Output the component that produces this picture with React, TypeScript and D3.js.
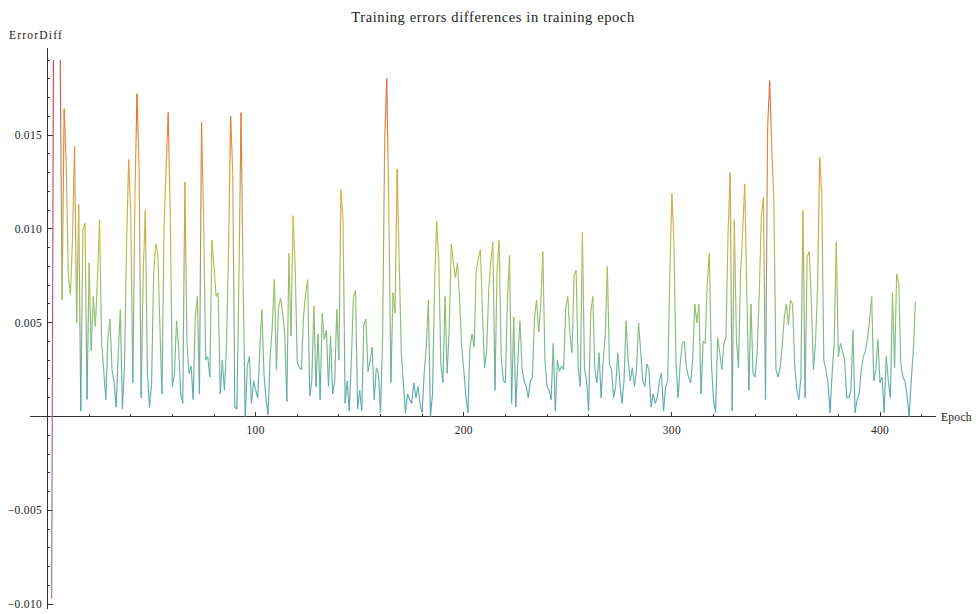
import React from 'react';
import * as d3 from 'd3';

// epoch of the first difference
const firstEpoch = 2;

// ErrorDiff per epoch, in thousandths (early values above 0.019 are cut by the plot range)
const errorDiffMilli = [
  -9.7, 24.0, 21.5, 23.0, 20.5, 6.2, 16.4, 13.5, 7.5, 6.5,
  9.4, 14.4, 5.0, 11.3, 0.3, 9.9, 10.3, 0.9, 8.2, 3.5,
  6.4, 4.8, 7.3, 10.5, 3.9, 2.5, 0.9, 4.1, 5.2, 2.5,
  1.8, 0.5, 3.4, 5.7, 0.4, 2.7, 9.2, 13.7, 10.8, 1.8,
  11.6, 17.2, 13.3, 1.0, 7.7, 11.0, 2.3, 0.5, 1.7, 7.6,
  9.2, 8.7, 4.8, 1.2, 10.1, 13.3, 16.2, 10.6, 1.6, 2.3,
  5.1, 3.7, 1.2, 0.7, 12.5, 4.0, 2.3, 2.7, 0.9, 5.3,
  6.4, 1.2, 15.7, 10.6, 3.0, 3.2, 2.1, 9.4, 8.0, 6.4,
  6.6, 1.2, 3.0, 1.4, 3.7, 9.0, 16.0, 13.0, 0.5, 0.4,
  7.5, 16.2, 7.1, 0.0, 2.7, 3.2, 0.7, 1.9, 1.4, 1.0,
  3.5, 5.7, 2.3, 0.9, 0.1, 3.2, 4.8, 7.3, 2.5, 5.8,
  6.3, 5.5, 4.4, 0.8, 8.7, 4.3, 10.7, 7.9, 2.9, 2.6,
  2.5, 5.3, 6.5, 7.3, 1.1, 1.9, 5.9, 1.6, 4.4, 0.9,
  5.5, 4.1, 4.6, 1.6, 4.3, 1.2, 1.9, 5.7, 3.0, 12.1,
  10.5, 0.7, 1.9, 0.3, 3.0, 6.4, 6.7, 0.4, 1.4, 0.3,
  4.9, 5.2, 2.4, 3.0, 3.7, 0.9, 2.6, 2.3, 0.2, 4.1,
  14.6, 18.0, 11.1, 1.8, 6.6, 5.5, 13.2, 8.2, 3.4, 1.7,
  0.2, 1.2, 0.9, 0.7, 1.8, 1.0, 1.6, 0.7, 0.2, 2.3,
  3.7, 6.2, 0.0, 1.2, 7.1, 10.4, 8.3, 2.8, 1.8, 6.4,
  2.3, 4.6, 9.2, 8.2, 7.4, 8.2, 6.2, 3.7, 2.5, 1.1,
  0.2, 3.7, 4.4, 3.7, 7.8, 8.4, 8.9, 5.5, 2.6, 3.5,
  6.7, 8.3, 9.3, 1.4, 7.8, 9.4, 3.2, 1.9, 1.8, 6.2,
  8.6, 0.7, 5.3, 0.5, 3.0, 5.1, 2.6, 1.9, 1.6, 1.0,
  1.9, 2.1, 5.3, 6.2, 4.5, 6.0, 8.8, 3.0, 1.6, 1.4,
  0.9, 3.9, 0.3, 3.0, 2.4, 2.7, 2.5, 5.8, 6.4, 4.4,
  3.4, 7.5, 7.8, 2.6, 1.6, 9.8, 2.6, 1.9, 0.3, 5.5,
  6.4, 2.5, 1.8, 3.4, 1.0, 3.0, 4.3, 8.0, 2.8, 2.5,
  1.0, 1.6, 3.4, 1.8, 0.7, 1.9, 5.1, 3.0, 1.9, 2.6,
  1.6, 2.5, 5.0, 3.5, 1.9, 1.6, 2.8, 2.5, 0.5, 1.2,
  0.7, 1.0, 1.9, 2.3, 0.3, 1.6, 1.9, 7.5, 11.9, 9.2,
  2.8, 1.0, 2.8, 3.9, 4.0, 2.6, 2.1, 1.8, 3.0, 6.0,
  5.0, 6.0, 1.2, 4.0, 3.9, 7.1, 8.7, 2.8, 0.9, 0.2,
  4.2, 3.4, 2.5, 3.9, 4.2, 9.8, 13.0, 0.3, 10.5, 4.2,
  2.6, 7.6, 9.8, 12.4, 6.6, 1.4, 6.0, 2.3, 2.1, 3.5,
  6.6, 10.7, 11.7, 0.9, 15.4, 17.9, 14.2, 11.5, 2.5, 2.1,
  2.6, 3.7, 5.3, 6.0, 4.9, 6.2, 6.0, 2.8, 1.4, 0.9,
  2.1, 11.0, 1.0, 8.5, 8.8, 6.2, 2.5, 3.9, 6.9, 13.8,
  11.9, 3.0, 2.5, 1.8, 0.2, 2.3, 4.0, 9.3, 3.2, 3.9,
  3.5, 3.0, 1.0, 1.0, 1.4, 4.6, 0.2, 0.9, 1.2, 2.5,
  3.2, 3.5, 4.2, 5.1, 6.4, 1.9, 2.5, 4.1, 1.8, 2.1,
  0.2, 3.2, 1.9, 1.0, 6.6, 2.6, 7.6, 7.1, 2.8, 2.1,
  1.9, 1.1, 0.0, 1.9, 3.5, 6.1,
];
const errorDiff = errorDiffMilli.map((v) => v / 1000);

const xMajorTicks = [100, 200, 300, 400];
const xMajorLabels = ['100', '200', '300', '400'];
const xMinorTicks = [20, 40, 60, 80, 120, 140, 160, 180, 220, 240, 260, 280, 320, 340, 360, 380, 420];
const yMajorTicks = [-0.01, -0.005, 0.005, 0.01, 0.015];
const yMajorLabels = ['\u22120.010', '\u22120.005', '0.005', '0.010', '0.015'];

const title = 'Training errors differences in training epoch';
const xLabel = 'Epoch';
const yLabel = 'ErrorDiff';

// colour by value, like the plot's colour function
const colorStops = [-0.0097, 0, 0.003, 0.005, 0.008, 0.0105, 0.013, 0.016, 0.019, 0.024];
const colorRange = ['#a565c6', '#56a3b6', '#72b79f', '#8dbd70', '#acc052', '#cbb942', '#e1a23e', '#e37c36', '#e0543f', '#d83a34'];

const W = 976;
const H = 614;
const font = '"Liberation Serif", "Times New Roman", serif';

export default function App() {
  const x = d3.scaleLinear().domain([0, 400]).range([47.5, 880]);
  const y = d3.scaleLinear().domain([0, 0.015]).range([416.5, 135.1]);
  const color = d3
    .scaleLinear<string>()
    .domain(colorStops)
    .range(colorRange)
    .interpolate(d3.interpolateRgb)
    .clamp(true);

  const pts = errorDiff.map((v, i) => ({ px: x(firstEpoch + i), py: y(v), v }));
  const segs = d3.pairs(pts);

  const yMinor = d3.range(-10, 20).filter((k) => k % 5 !== 0).map((k) => k / 1000);
  const ax0 = x(0) - 0.5;
  const ay0 = y(0);
  const clipTop = y(0.019);
  const clipBottom = y(-0.0105);

  return (
    <svg width={W} height={H} style={{ position: 'absolute', left: 0, top: 0, background: '#fff' }}>
      <defs>
        <clipPath id="plotArea">
          <rect x={0} y={clipTop} width={W} height={clipBottom - clipTop} />
        </clipPath>
        {segs.map(([a, b], i) => (
          <linearGradient key={i} id={`seg${i}`} gradientUnits="userSpaceOnUse" x1={a.px} y1={a.py} x2={b.px} y2={b.py}>
            <stop offset="0" stopColor={color(a.v)} />
            <stop offset="1" stopColor={color(b.v)} />
          </linearGradient>
        ))}
      </defs>

      <text x={493} y={22} textAnchor="middle" fontFamily={font} fontSize={14.5} letterSpacing={0.6} fill="#222">
        {title}
      </text>

      {/* axes */}
      <g stroke="#333" strokeWidth={1} shapeRendering="crispEdges">
        <line x1={30} x2={936} y1={ay0} y2={ay0} />
        <line x1={ax0} x2={ax0} y1={48} y2={609} />
        {xMajorTicks.map((t) => (
          <line key={`xM${t}`} x1={x(t)} x2={x(t)} y1={ay0} y2={ay0 - 5} />
        ))}
        {xMinorTicks.map((t) => (
          <line key={`xm${t}`} x1={x(t)} x2={x(t)} y1={ay0} y2={ay0 - 3} />
        ))}
        {yMajorTicks.map((t) => (
          <line key={`yM${t}`} x1={ax0} x2={ax0 + 6} y1={y(t)} y2={y(t)} />
        ))}
        {yMinor.map((t) => (
          <line key={`ym${t}`} x1={ax0} x2={ax0 + 3} y1={y(t)} y2={y(t)} />
        ))}
      </g>

      <g fontFamily={font} fontSize={11.5} fill="#222" letterSpacing={0.3}>
        {xMajorTicks.map((t, i) => (
          <text key={`xl${t}`} x={x(t)} y={ay0 + 17} textAnchor="middle">
            {xMajorLabels[i]}
          </text>
        ))}
        {yMajorTicks.map((t, i) => (
          <text key={`yl${t}`} x={ax0 - 5} y={y(t) + 4} textAnchor="end">
            {yMajorLabels[i]}
          </text>
        ))}
        <text x={941} y={ay0 + 4}>{xLabel}</text>
        <text x={9} y={39} letterSpacing={1.2}>{yLabel}</text>
      </g>

      {/* the line, one gradient per segment */}
      <g clipPath="url(#plotArea)" fill="none" strokeWidth={1.15} strokeLinejoin="round">
        {segs.map(([a, b], i) => (
          <line key={i} x1={a.px} y1={a.py} x2={b.px} y2={b.py} stroke={`url(#seg${i})`} />
        ))}
      </g>
    </svg>
  );
}
